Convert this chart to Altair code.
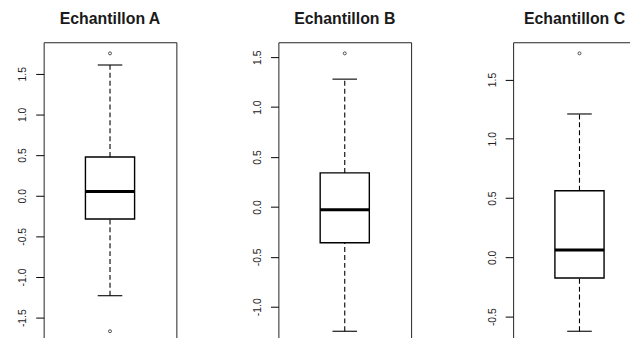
import altair as alt
import pandas as pd

# ---- data ----
samples = ["Echantillon A", "Echantillon B", "Echantillon C"]
lower_whisker = [-1.23, -1.245, -0.623]
q1 = [-0.286, -0.358, -0.174]
median = [0.051, -0.029, 0.062]
q3 = [0.476, 0.341, 0.562]
upper_whisker = [1.607, 1.28, 1.209]
outliers = [[1.75, -1.667], [1.538], [1.72]]
tick_values = [
    [-1.5, -1.0, -0.5, 0.0, 0.5, 1.0, 1.5],
    [-1.0, -0.5, 0.0, 0.5, 1.0, 1.5],
    [-0.5, 0.0, 0.5, 1.0, 1.5],
]

FONT = "Liberation Sans"
PLOT_W = 134
PLOT_H = 303
TITLE_DX = [0, 0, -5]


def panel(i):
    lo = min([lower_whisker[i]] + outliers[i])
    hi = max([upper_whisker[i]] + outliers[i])
    pad = 0.04 * (hi - lo)
    yscale = alt.Scale(domain=[lo - pad, hi + pad], nice=False, zero=False)
    xscale = alt.Scale(domain=[0.46, 1.54], nice=False, zero=False)
    yaxis = alt.Axis(
        values=tick_values[i],
        format=".1f",
        labelExpr="replace(datum.label, '\u2212', '-')",
    )
    stats = pd.DataFrame({
        "lo": [lower_whisker[i]], "q1": [q1[i]], "med": [median[i]],
        "q3": [q3[i]], "hi": [upper_whisker[i]],
    })
    outs = pd.DataFrame({"value": outliers[i]})
    base = alt.Chart(stats)

    def X(v):
        return alt.XDatum(v, type="quantitative", scale=xscale, axis=None)

    def Y(f):
        return alt.Y(f, type="quantitative", scale=yscale, axis=yaxis, title=None)

    box = base.mark_rect(fill="white", stroke="black", strokeWidth=1.4).encode(
        x=X(0.8), x2=alt.datum(1.2), y=Y("q1"), y2="q3"
    )
    w_up = base.mark_rule(color="black", strokeWidth=1.1, strokeDash=[5, 3]).encode(
        x=X(1.0), y=Y("q3"), y2="hi"
    )
    w_lo = base.mark_rule(color="black", strokeWidth=1.1, strokeDash=[5, 3]).encode(
        x=X(1.0), y=Y("lo"), y2="q1"
    )
    cap_up = base.mark_rule(color="black", strokeWidth=1.1).encode(
        x=X(0.9), x2=alt.datum(1.1), y=Y("hi")
    )
    cap_lo = base.mark_rule(color="black", strokeWidth=1.1).encode(
        x=X(0.9), x2=alt.datum(1.1), y=Y("lo")
    )
    med = base.mark_rule(color="black", strokeWidth=3).encode(
        x=X(0.8), x2=alt.datum(1.2), y=Y("med")
    )
    pts = alt.Chart(outs).mark_point(
        shape="circle", size=9, filled=False, stroke="black", strokeWidth=1
    ).encode(x=X(1.0), y=Y("value"))

    return alt.layer(box, w_up, w_lo, cap_up, cap_lo, med, pts).properties(
        width=PLOT_W,
        height=PLOT_H,
        title=alt.Title(
            samples[i], fontSize=16, font=FONT, fontWeight="bold",
            anchor="middle", offset=15, color="#1a1a1a", dx=TITLE_DX[i],
        ),
    )


chart = alt.hconcat(*[panel(i) for i in range(3)], spacing=71).resolve_scale(
    x="independent", y="independent"
).configure_view(
    stroke="#222", strokeWidth=1
).configure_axis(
    grid=False, domain=False, tickSize=8, tickColor="black", tickWidth=1,
    labelFont=FONT, labelFontSize=10.5, labelColor="#222",
    labelAngle=270, labelAlign="center", labelBaseline="alphabetic",
    labelPadding=10, minExtent=30, maxExtent=30,
).properties(
    background="white",
    padding={"left": 5, "top": 1, "right": -17, "bottom": -7},
)

chart.save("out.html", embed_options={"renderer": "svg", "actions": False})
